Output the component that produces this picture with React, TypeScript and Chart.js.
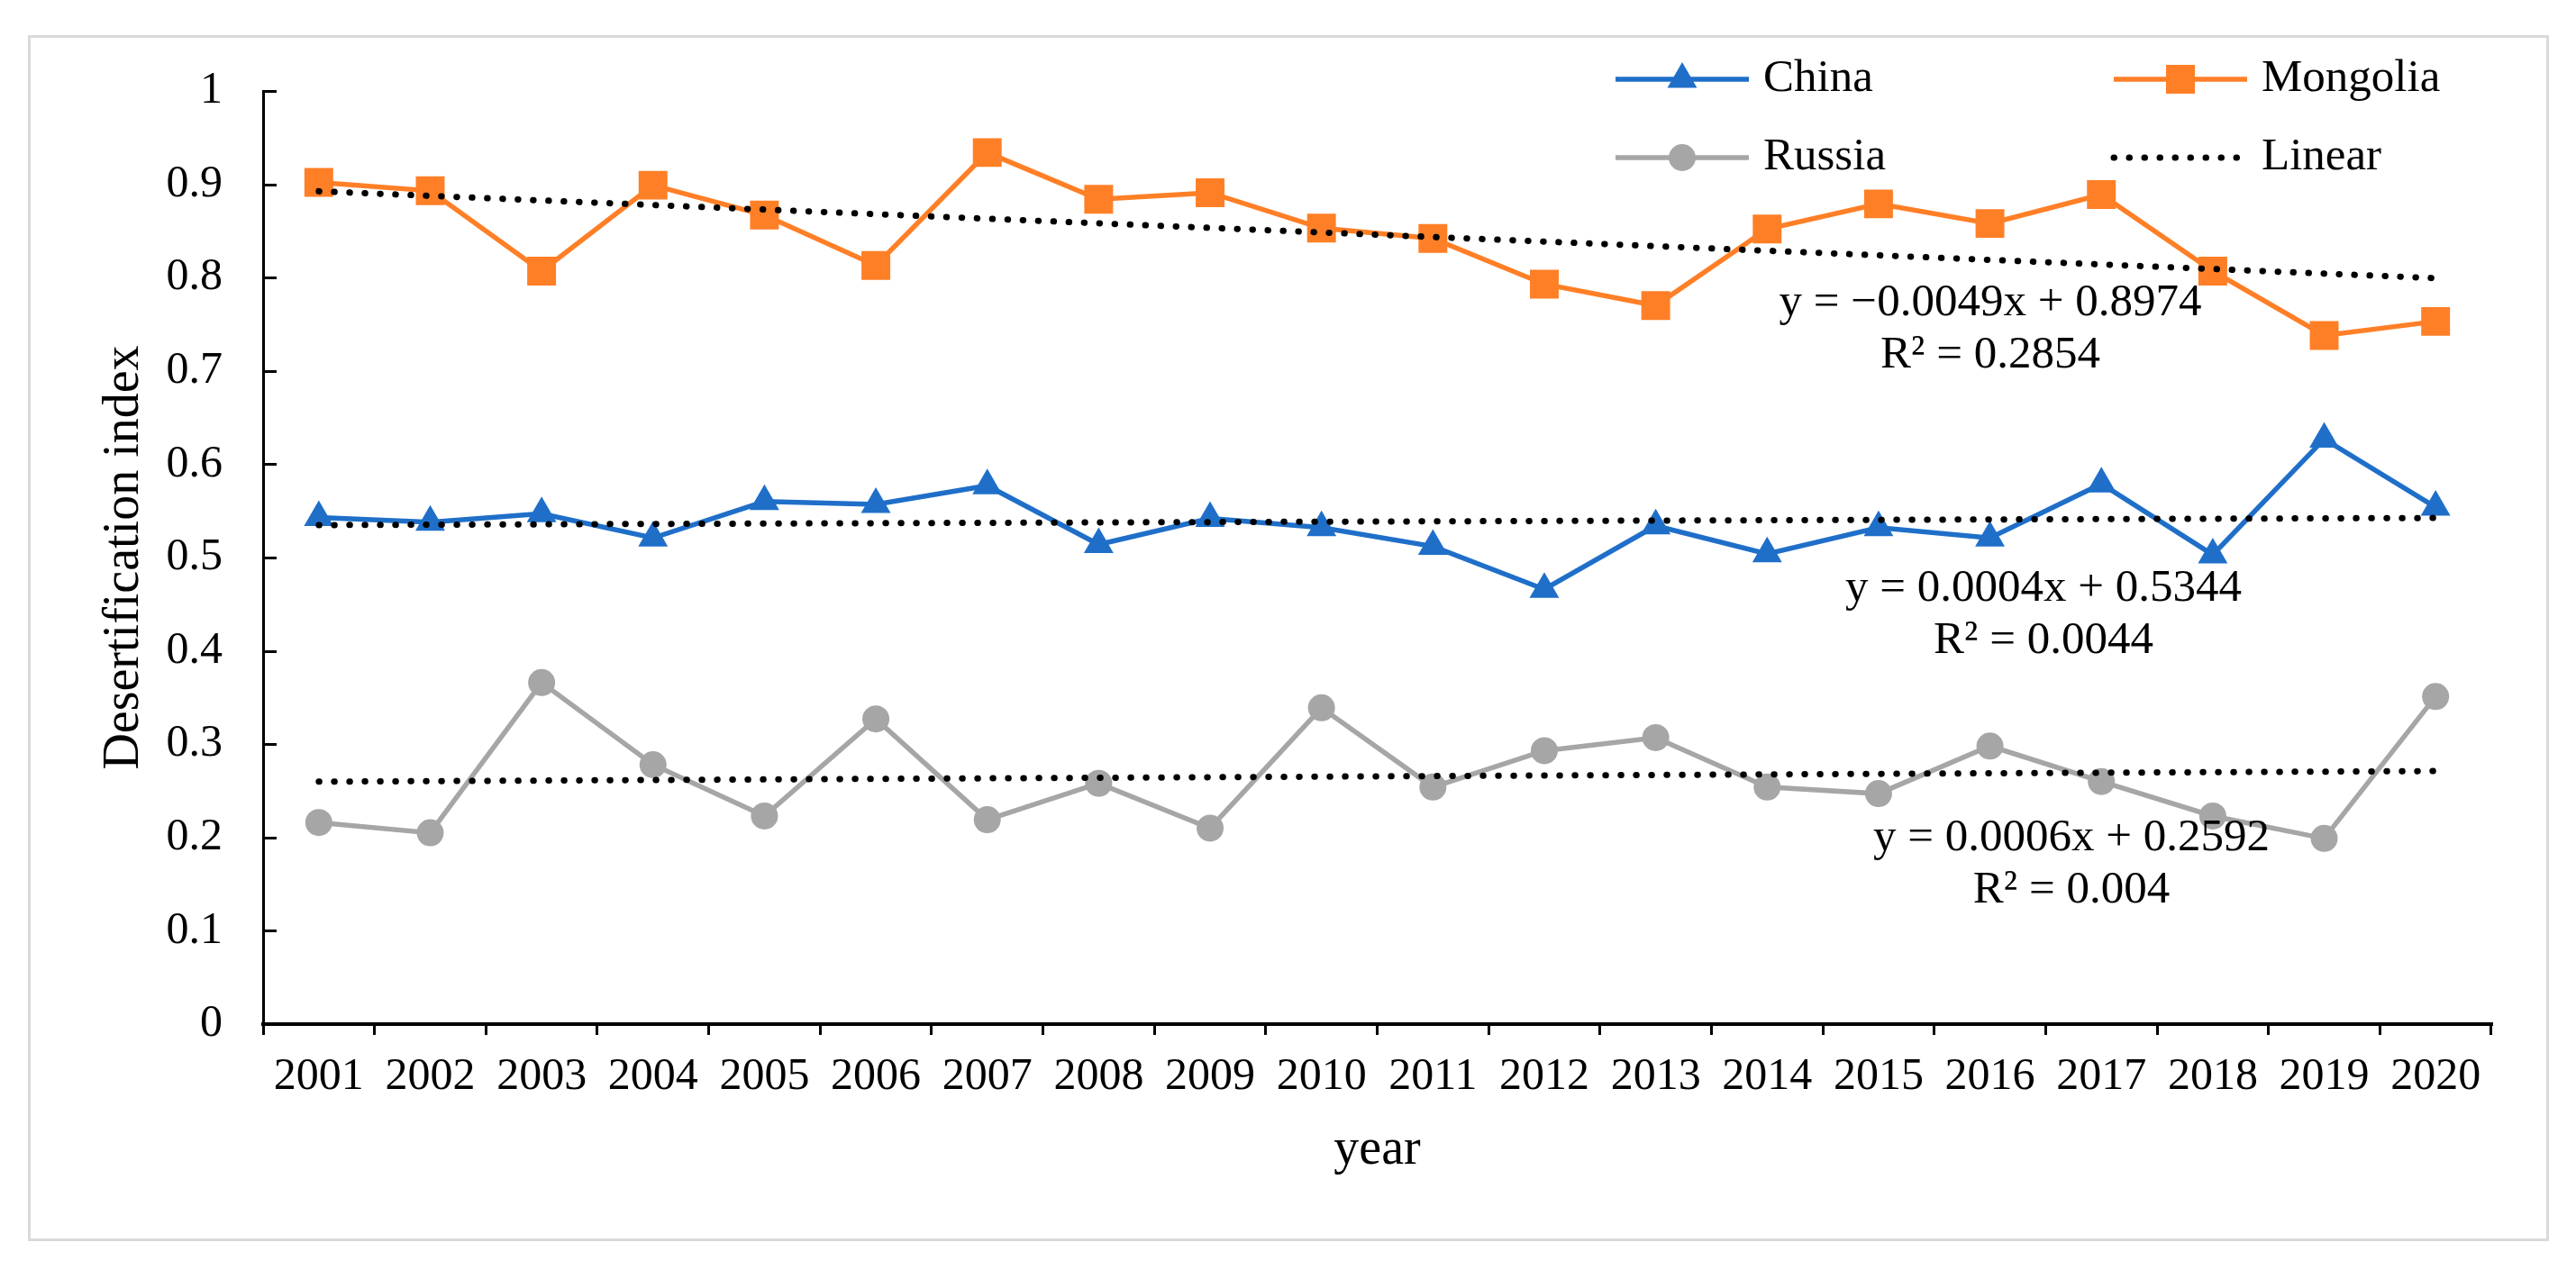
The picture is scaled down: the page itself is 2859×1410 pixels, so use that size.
import React, { useEffect, useRef } from "react";
import { Chart, registerables } from "chart.js";

Chart.register(...registerables);

// ---------- data ----------
const years = [
  "2001", "2002", "2003", "2004", "2005", "2006", "2007", "2008", "2009", "2010",
  "2011", "2012", "2013", "2014", "2015", "2016", "2017", "2018", "2019", "2020",
];
const china = [
  0.543, 0.538, 0.547, 0.521, 0.560, 0.557, 0.577, 0.514, 0.542, 0.532,
  0.512, 0.466, 0.534, 0.504, 0.532, 0.521, 0.579, 0.503, 0.627, 0.554,
];
const mongolia = [
  0.902, 0.893, 0.807, 0.899, 0.867, 0.813, 0.934, 0.884, 0.891, 0.853,
  0.842, 0.793, 0.770, 0.852, 0.879, 0.858, 0.889, 0.807, 0.738, 0.753,
];
const russia = [
  0.216, 0.205, 0.366, 0.278, 0.223, 0.327, 0.219, 0.258, 0.210, 0.339,
  0.254, 0.293, 0.307, 0.254, 0.247, 0.298, 0.260, 0.223, 0.199, 0.351,
];
// trend line end points (first year, last year)
const chinaTrend = [0.5348, 0.5424];
const mongoliaTrend = [0.8925, 0.7994];
const russiaTrend = [0.2598, 0.2712];

const yTicks = [0, 0.1, 0.2, 0.3, 0.4, 0.5, 0.6, 0.7, 0.8, 0.9, 1];
const yTickLabels = ["0", "0.1", "0.2", "0.3", "0.4", "0.5", "0.6", "0.7", "0.8", "0.9", "1"];

const seriesNames = ["China", "Mongolia", "Russia", "Linear"];
const xTitle = "year";
const yTitle = "Desertification index";
const mongoliaEq = ["y = \u22120.0049x + 0.8974", "R\u00B2 = 0.2854"];
const chinaEq = ["y = 0.0004x + 0.5344", "R\u00B2 = 0.0044"];
const russiaEq = ["y = 0.0006x + 0.2592", "R\u00B2 = 0.004"];

// ---------- styles ----------
const W = 2859;
const H = 1410;
const FONT = '"Liberation Serif", "Times New Roman", Times, serif';
const BLUE = "#1F6FC9";
const ORANGE = "#FF7F27";
const GRAY = "#A6A6A6";
const TRI_R = 19;
const RECT_R = 22.6;
const CIRC_R = 15;
const LINE_W = 5.5;

function trendData(t: number[]) {
  return [
    { x: years[0], y: t[0] },
    { x: years[years.length - 1], y: t[1] },
  ];
}

function drawMarker(ctx: CanvasRenderingContext2D, style: string, x: number, y: number, color: string) {
  ctx.fillStyle = color;
  ctx.beginPath();
  if (style === "triangle") {
    const r = TRI_R;
    for (let i = 0; i < 3; i++) {
      const a = (i * 2 * Math.PI) / 3;
      const px = x + Math.sin(a) * r;
      const py = y - Math.cos(a) * r;
      if (i === 0) ctx.moveTo(px, py);
      else ctx.lineTo(px, py);
    }
    ctx.closePath();
  } else if (style === "rect") {
    const s = RECT_R * Math.SQRT1_2;
    ctx.rect(x - s, y - s, 2 * s, 2 * s);
  } else {
    ctx.arc(x, y, CIRC_R, 0, Math.PI * 2);
  }
  ctx.fill();
}

const overlayPlugin = {
  id: "overlay",
  afterDraw(chart: any) {
    const ctx: CanvasRenderingContext2D = chart.ctx;
    const area = chart.chartArea;
    const ys = chart.scales.y;
    ctx.save();

    // inward y ticks
    ctx.strokeStyle = "#000";
    ctx.lineWidth = 3;
    ys.ticks.forEach((t: any) => {
      const py = Math.round(ys.getPixelForValue(t.value)) + 0.5;
      ctx.beginPath();
      ctx.moveTo(area.left, py);
      ctx.lineTo(area.left + 15, py);
      ctx.stroke();
    });

    // axis titles
    ctx.fillStyle = "#000";
    ctx.font = `56px ${FONT}`;
    ctx.textAlign = "center";
    ctx.textBaseline = "middle";
    ctx.fillText(xTitle, (area.left + area.right) / 2, 1277);
    ctx.save();
    ctx.translate(138, (area.top + area.bottom) / 2);
    ctx.rotate(-Math.PI / 2);
    ctx.fillText(yTitle, 0, 0);
    ctx.restore();

    // legend
    const rows = [
      { name: seriesNames[0], color: BLUE, style: "triangle", x0: 1793, y: 88 },
      { name: seriesNames[1], color: ORANGE, style: "rect", x0: 2346, y: 88 },
      { name: seriesNames[2], color: GRAY, style: "circle", x0: 1793, y: 175 },
      { name: seriesNames[3], color: "#000", style: "dot", x0: 2346, y: 175 },
    ];
    rows.forEach((r) => {
      const x1 = r.x0 + 148;
      ctx.save();
      if (r.style === "dot") {
        ctx.strokeStyle = "#000";
        ctx.lineWidth = 7;
        ctx.lineCap = "round";
        ctx.setLineDash([0.5, 16.5]);
      } else {
        ctx.strokeStyle = r.color;
        ctx.lineWidth = LINE_W;
        ctx.lineCap = "butt";
      }
      ctx.beginPath();
      ctx.moveTo(r.x0, r.y);
      ctx.lineTo(x1, r.y);
      ctx.stroke();
      ctx.restore();
      if (r.style !== "dot") drawMarker(ctx, r.style, (r.x0 + x1) / 2, r.y, r.color);
      ctx.fillStyle = "#000";
      ctx.font = `51px ${FONT}`;
      ctx.textAlign = "left";
      ctx.textBaseline = "middle";
      ctx.fillText(r.name, r.x0 + 164, r.y);
    });

    // equations
    ctx.fillStyle = "#000";
    ctx.font = `51px ${FONT}`;
    ctx.textAlign = "center";
    ctx.textBaseline = "middle";
    const eqs = [
      { lines: mongoliaEq, x: 2209, y: 337 },
      { lines: chinaEq, x: 2268, y: 654 },
      { lines: russiaEq, x: 2299, y: 931 },
    ];
    eqs.forEach((e) => {
      e.lines.forEach((l, i) => ctx.fillText(l, e.x, e.y + i * 58));
    });

    ctx.restore();
  },
};

export default function App() {
  const ref = useRef<HTMLCanvasElement | null>(null);

  useEffect(() => {
    if (!ref.current) return;
    const series = (label: string, data: number[], color: string, style: string, r: number) => ({
      label,
      data,
      borderColor: color,
      backgroundColor: color,
      borderWidth: LINE_W,
      pointStyle: style,
      pointRadius: r,
      pointHoverRadius: r,
      pointBorderWidth: 0,
      pointBackgroundColor: color,
      tension: 0,
      order: 1,
    });
    const trend = (t: number[]) => ({
      label: "Linear",
      data: trendData(t),
      borderColor: "#000",
      borderWidth: 7,
      borderDash: [0.5, 16.5],
      borderCapStyle: "round",
      pointRadius: 0,
      pointHoverRadius: 0,
      tension: 0,
      order: 0,
    });

    const chart = new Chart(ref.current, {
      type: "line",
      data: {
        labels: years,
        datasets: [
          series("China", china, BLUE, "triangle", TRI_R),
          series("Mongolia", mongolia, ORANGE, "rect", RECT_R),
          series("Russia", russia, GRAY, "circle", CIRC_R),
          trend(mongoliaTrend),
          trend(chinaTrend),
          trend(russiaTrend),
        ] as any,
      },
      options: {
        animation: false,
        responsive: false,
        devicePixelRatio: 1,
        events: [],
        layout: { padding: { top: 101, right: 94, left: 0, bottom: 0 } },
        plugins: {
          legend: { display: false },
          tooltip: { enabled: false },
          title: { display: false },
        },
        scales: {
          x: {
            type: "category",
            offset: true,
            grid: {
              offset: true,
              drawOnChartArea: false,
              drawTicks: true,
              tickLength: 12,
              color: "#000",
              lineWidth: 3,
            },
            border: { display: true, color: "#000", width: 4 },
            ticks: {
              color: "#000",
              font: { family: FONT, size: 50 },
              padding: 17,
              maxRotation: 0,
              autoSkip: false,
            },
            afterFit: (s: any) => {
              s.height = 273;
            },
          },
          y: {
            min: 0,
            max: 1,
            grid: { display: false, drawTicks: false },
            border: { display: true, color: "#000", width: 3 },
            ticks: {
              color: "#000",
              font: { family: FONT, size: 50 },
              padding: 45,
              callback: (_v: any, i: number) => yTickLabels[i],
            },
            afterBuildTicks: (s: any) => {
              s.ticks = yTicks.map((v) => ({ value: v }));
            },
            afterFit: (s: any) => {
              s.width = 292;
            },
          },
        },
      } as any,
      plugins: [overlayPlugin],
    });
    return () => chart.destroy();
  }, []);

  return (
    <div
      style={{
        position: "fixed",
        left: 0,
        top: 0,
        width: W,
        height: H,
        background: "#fff",
        overflow: "hidden",
      }}
    >
      <div
        style={{
          position: "absolute",
          left: 31,
          top: 39,
          width: 2829 - 31,
          height: 1378 - 39,
          border: "3px solid #DADADA",
          boxSizing: "border-box",
        }}
      />
      <canvas
        ref={ref}
        width={W}
        height={H}
        style={{ position: "absolute", left: 0, top: 0, width: W, height: H }}
      />
    </div>
  );
}
